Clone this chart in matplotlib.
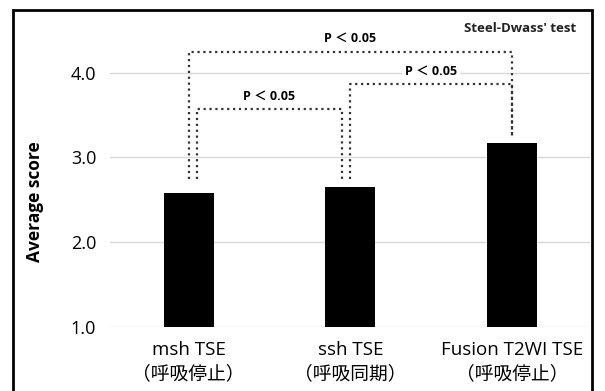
import matplotlib.pyplot as plt
from matplotlib.patches import Rectangle

plt.rcParams['font.family'] = ['Open Sans', 'Noto Sans CJK JP', 'DejaVu Sans']

# data
categories = ['msh TSE\n（呼吸停止）', 'ssh TSE\n（呼吸同期）', 'Fusion T2WI TSE\n（呼吸停止）']
scores = [2.58, 2.65, 3.17]
yticks = [1.0, 2.0, 3.0, 4.0]

# significance brackets: (left x, right x, top y, left leg bottom, right leg bottom, label)
brackets = [
    (0.0, 2.0, 4.25, 2.74, 3.23, 'P ＜ 0.05'),
    (0.05, 0.95, 3.57, 2.74, 2.74, 'P ＜ 0.05'),
    (1.0, 2.0, 3.87, 2.74, 3.23, 'P ＜ 0.05'),
]

fig = plt.figure(figsize=(6.05, 3.91), dpi=100)
ax = fig.add_axes([0.182, 0.164, 0.793, 0.78])

x = list(range(len(categories)))
ax.bar(x, scores, width=0.31, bottom=0, color='black', zorder=3)

ax.set_ylim(1.0, 4.6)
ax.set_xlim(-0.485, 2.48)
ax.set_yticks(yticks)
ax.set_yticklabels([f'{v:.1f}' for v in yticks], fontsize=13)
ax.set_xticks(x)
ax.set_xticklabels(categories, fontsize=13.5, linespacing=1.45)
ax.tick_params(length=0, pad=10, axis='y')
ax.tick_params(length=0, pad=10, axis='x')
ax.grid(axis='y', color='#d9d9d9', linewidth=1, zorder=0)
for s in ax.spines.values():
    s.set_visible(False)
ax.set_ylabel('Average score', fontsize=12.5, fontweight='bold')
ax.yaxis.set_label_coords(-0.137, 0.41)

for x0, x1, top, b0, b1, lab in brackets:
    ax.plot([x0, x0, x1, x1], [b0, top, top, b1], linestyle=':', color='#333333',
            linewidth=1.6, zorder=4)
    ax.text((x0 + x1) / 2, top + 0.15, lab, ha='center', va='center',
            fontsize=9, fontweight='bold',
            bbox=dict(facecolor='white', edgecolor='none', pad=2), zorder=5)

fig.text(0.86, 0.927, "Steel-Dwass' test", ha='center', va='center', fontsize=9.5,
         fontweight='bold', color='#222222')

# outer frame
fig.patches.append(Rectangle((0.022, -0.1), 0.956, 1.074, transform=fig.transFigure,
                             fill=False, edgecolor='black', linewidth=2))

fig.savefig('out.png', dpi=100)
